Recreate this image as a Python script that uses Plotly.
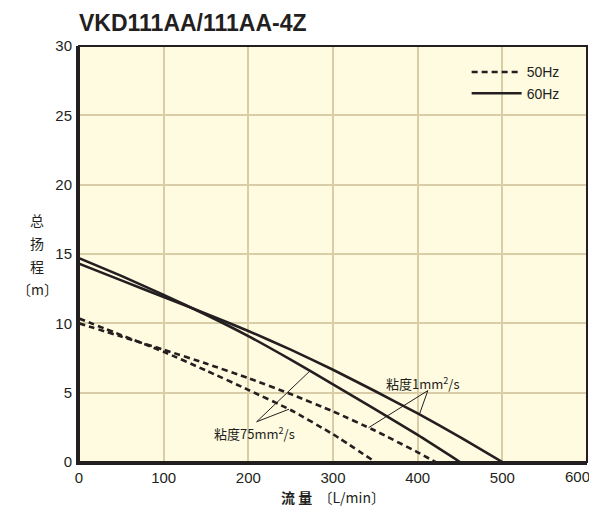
import numpy as np
import plotly.graph_objects as go

# ---- data ----
flow_60_w = [0, 50, 100, 150, 200, 250, 300, 350, 400, 450, 500]
head_60_w = [14.3, 13.1, 11.9, 10.7, 9.45, 8.1, 6.65, 5.1, 3.5, 1.8, 0.0]

flow_60_v = [0, 50, 100, 150, 200, 250, 300, 350, 400, 450]
head_60_v = [14.7, 13.42, 12.05, 10.62, 9.08, 7.38, 5.6, 3.8, 1.95, 0.0]

flow_50_w = [0, 50, 100, 150, 200, 250, 300, 350, 400, 421]
head_50_w = [10.0, 9.05, 8.1, 7.1, 6.05, 4.9, 3.65, 2.25, 0.7, 0.0]

flow_50_v = [0, 50, 100, 150, 200, 250, 300, 350]
head_50_v = [10.35, 9.15, 7.95, 6.6, 5.2, 3.75, 2.0, 0.0]

x_ticks = [0, 100, 200, 300, 400, 500, 600]
x_tick_labels = ["0", "100", "200", "300", "400", "500", "600"]
y_ticks = [0, 5, 10, 15, 20, 25, 30]

title_text = "VKD111AA/111AA-4Z"
label_water = "粘度1mm<sup>2</sup>/s"
label_visc = "粘度75mm<sup>2</sup>/s"
y_title_chars = ["总", "扬", "程", "〔m〕"]

INK = "#231F20"
FONT = "Liberation Sans, Noto Sans CJK SC, sans-serif"
CJK = "Noto Sans CJK SC, Liberation Sans, sans-serif"

# page body has an 8px margin: figure is sized/offset to compensate
OFF = 8
W, H = 597 - OFF, 509 - OFF

fig = go.Figure()

def add_curve(x, y, dash, name, show):
    fig.add_trace(go.Scatter(
        x=x, y=y, mode="lines", name=name, showlegend=show,
        line=dict(color=INK, width=2.6, dash=dash, shape="spline", smoothing=0.5),
        hoverinfo="skip"))

add_curve(flow_50_w, head_50_w, "6px,4px", "50Hz", True)
add_curve(flow_50_v, head_50_v, "6px,4px", "50Hz", False)
add_curve(flow_60_w, head_60_w, "solid", "60Hz", True)
add_curve(flow_60_v, head_60_v, "solid", "60Hz", False)

# pointer lines from label apex to curves (targets read on curves via interpolation)
def ptr(ax, ay, tx, fx, fy):
    ty = float(np.interp(tx, fx, fy))
    fig.add_shape(type="line", x0=ax, y0=ay, x1=tx, y1=ty,
                  line=dict(color=INK, width=1))

ptr(209.8, 2.9, 272.8, flow_60_v, head_60_v)
ptr(209.8, 2.9, 248, flow_50_v, head_50_v)
ptr(412, 5.15, 342, flow_50_w, head_50_w)
ptr(412, 5.15, 402, flow_60_w, head_60_w)

fig.add_annotation(x=157, y=2.1, text=label_visc, showarrow=False, xanchor="left",
                   font=dict(family=CJK, size=13, color=INK))
fig.add_annotation(x=360, y=5.7, text=label_water, showarrow=False, xanchor="left",
                   font=dict(family=CJK, size=13, color=INK))

# y axis title (stacked characters)
for i, t in enumerate(y_title_chars):
    fig.add_annotation(xref="paper", yref="paper", x=-(79 - 37) / 508.0,
                       xanchor="center", yanchor="middle",
                       y=(462 - (220 + 23 * i)) / 416.0, text=t, showarrow=False,
                       font=dict(family=CJK, size=14, color=INK))

# last x tick label drawn as text nudged inside the page edge
fig.add_annotation(x=x_ticks[-1], xref="x", y=0, yref="paper", text=x_tick_labels[-1],
                   showarrow=False, xanchor="right", yanchor="middle",
                   xshift=5, yshift=-14, font=dict(family=FONT, size=15, color=INK))

# plot border
fig.add_shape(type="rect", xref="paper", yref="paper", x0=0, y0=0, x1=1, y1=1,
              line=dict(color=INK, width=2), layer="above")

fig.update_layout(
    width=W, height=H,
    margin=dict(l=79 - OFF, r=10, t=46 - OFF, b=47, pad=0, autoexpand=False),
    paper_bgcolor="white",
    plot_bgcolor="#FFFBE1",
    font=dict(family=FONT, size=15, color=INK),
    title=dict(text="<b>" + title_text + "</b>", x=0, xref="paper", xanchor="left",
               y=1 - (23 - OFF) / H, yanchor="middle",
               font=dict(family=FONT, size=23, color=INK)),
    legend=dict(x=0.956, xanchor="right", y=0.975, yanchor="top",
                bgcolor="rgba(0,0,0,0)", font=dict(size=14, color=INK),
                itemwidth=50, tracegroupgap=0),
    showlegend=True,
)

fig.update_xaxes(range=[0, 600], tickvals=x_ticks,
                 ticktext=x_tick_labels[:-1] + [""], showgrid=True,
                 gridcolor="#D8CDA6", gridwidth=1.6, zeroline=False,
                 showline=True, linecolor=INK, linewidth=3, ticks="",
                 ticklabelstandoff=0, ticklabeloverflow="allow", automargin=False,
                 title=dict(text="<b>流 量</b>  〔L/min〕", standoff=9,
                            font=dict(family=CJK, size=14, color=INK)))
fig.update_yaxes(range=[0, 30], tickvals=y_ticks, showgrid=True,
                 gridcolor="#D8CDA6", gridwidth=1.6, zeroline=False,
                 showline=True, linecolor=INK, linewidth=3, ticks="",
                 ticklabelstandoff=1, automargin=False)

fig.write_html("out.html")
